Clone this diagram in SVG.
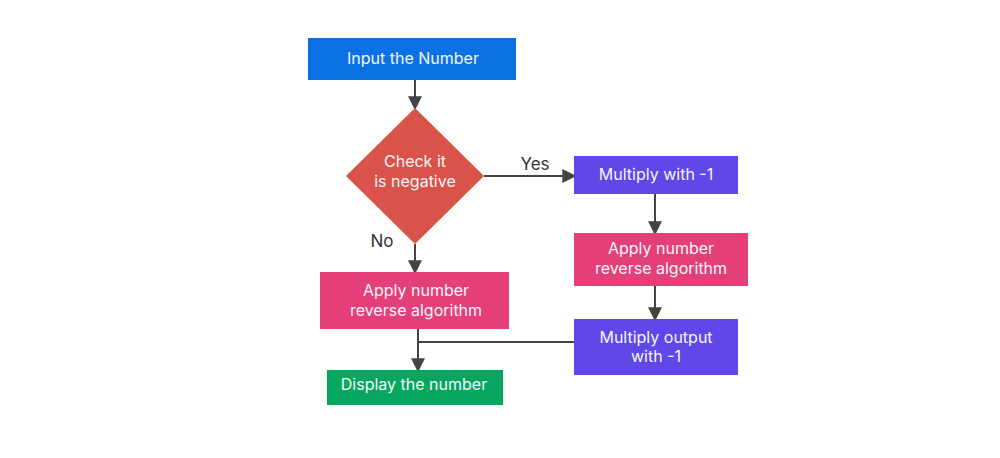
<svg xmlns="http://www.w3.org/2000/svg" width="1000" height="458" viewBox="0 0 1000 458">
<style>
text{font-family:Inter,"Noto Sans",sans-serif;font-size:16px;text-anchor:middle}
.w{fill:#f6f6fb}
.d{fill:#333333;font-size:17px}
.c{stroke:#444444;stroke-width:2;fill:none}
</style>
<defs>
<marker id="b" viewBox="0 0 12 12" refX="10" refY="6" markerWidth="14" markerHeight="14" markerUnits="userSpaceOnUse" orient="auto"><path d="M0,0L12,6L0,12z" fill="#444444"/></marker>
</defs>
<rect width="1000" height="458" fill="#ffffff"/>
<g id="connectors">
<path class="c" d="M415,80V108" marker-end="url(#b)"/>
<path class="c" d="M484,176H574" marker-end="url(#b)"/>
<path class="c" d="M415,244V272" marker-end="url(#b)"/>
<path class="c" d="M655,194V233" marker-end="url(#b)"/>
<path class="c" d="M655,286V319" marker-end="url(#b)"/>
<path class="c" d="M418,329V370" marker-end="url(#b)"/>
<path class="c" d="M574,342H418"/>
<text class="d" x="535" y="170">Yes</text>
<text class="d" x="382" y="247">No</text>
</g>
<g id="input">
<rect x="308" y="38" width="208" height="42" fill="#0b72e6"/>
<text class="w" x="413" y="64">Input the Number</text>
</g>
<g id="check">
<polygon points="415,108 484,176 415,244 346,176" fill="#d9534a"/>
<text class="w" x="415" y="167">Check it</text>
<text class="w" x="415" y="187">is negative</text>
</g>
<g id="mult1">
<rect x="574" y="156" width="164" height="38" fill="#5f47e8"/>
<text class="w" x="656" y="180">Multiply with -1</text>
</g>
<g id="applyR">
<rect x="574" y="233" width="174" height="53" fill="#e43f78"/>
<text class="w" x="661" y="254">Apply number</text>
<text class="w" x="661" y="274">reverse algorithm</text>
</g>
<g id="mult2">
<rect x="574" y="319" width="164" height="56" fill="#5f47e8"/>
<text class="w" x="656" y="343">Multiply output</text>
<text class="w" x="656" y="362">with -1</text>
</g>
<g id="applyL">
<rect x="320" y="272" width="189" height="57" fill="#e43f78"/>
<text class="w" x="416" y="296">Apply number</text>
<text class="w" x="416" y="316">reverse algorithm</text>
</g>
<g id="display">
<rect x="327" y="370" width="176" height="35" fill="#05a660"/>
<text class="w" x="414" y="390">Display the number</text>
</g>
</svg>
